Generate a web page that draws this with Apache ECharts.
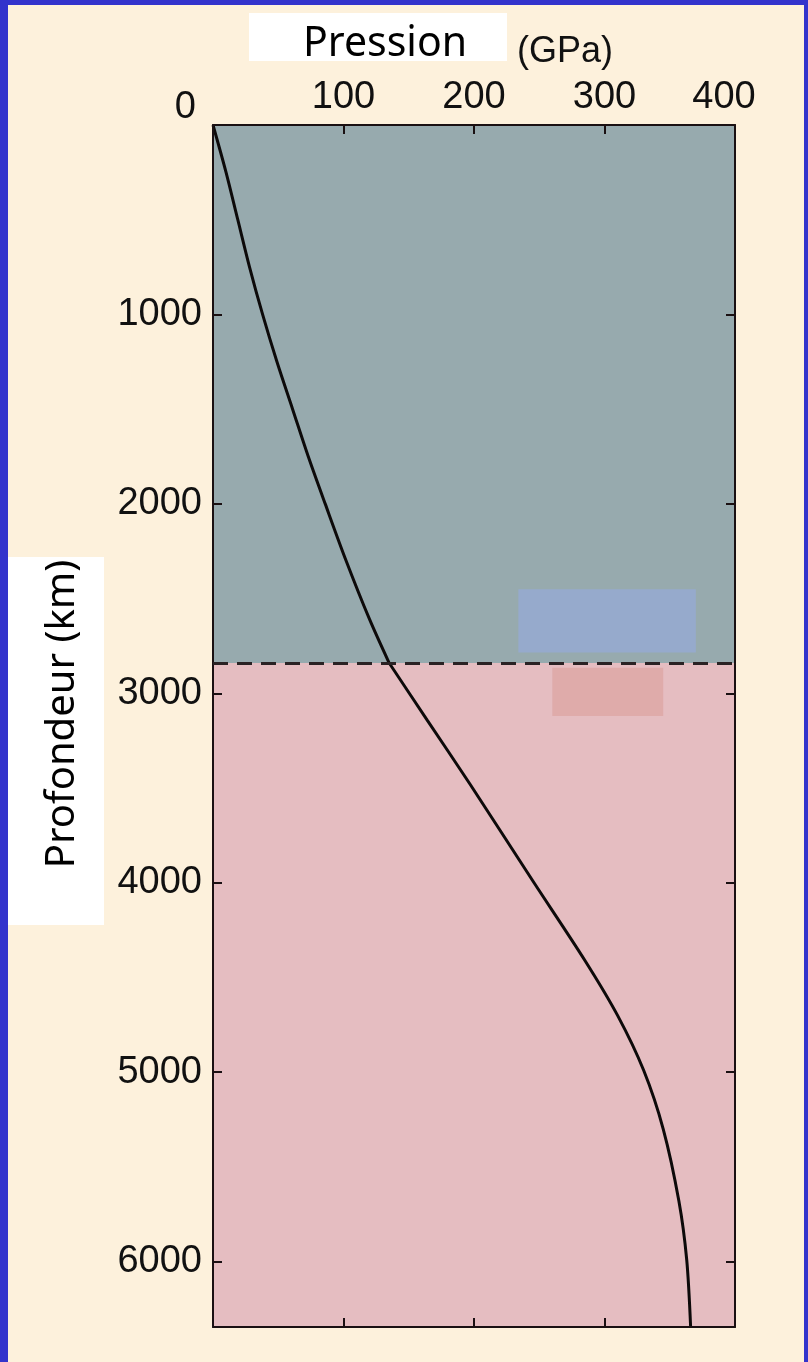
<!DOCTYPE html>
<html>
<head>
<meta charset="utf-8">
<script src="https://cdn.jsdelivr.net/npm/echarts@6/dist/echarts.min.js"></script>
<style>
html, body { margin: 0; padding: 0; }
#wrap { position: relative; width: 808px; height: 1362px; background: #3333cc; overflow: hidden; }
#chart { position: absolute; left: 8px; top: 5px; width: 796px; height: 1357px; }
</style>
</head>
<body>
<div id="wrap"><div id="chart"></div></div>
<script>
// courbe pression / profondeur
var depthKm     = [0, 250, 500, 750, 1000, 1250, 1500, 1750, 2000, 2300, 2610, 2840, 3140, 3480, 4000, 4410, 4700, 4990, 5300, 5680, 5990, 6345];
var pressureGPa = [0,  10,  19,  28,   38,   49,   61,   73,   86,  102,  120,  135,  164,  197,  246,  285,  310,  330,  345,  357,  363,  366];

var depthTicks = [0, 1000, 2000, 3000, 4000, 5000, 6000];
var pressureTicks = [0, 100, 200, 300, 400];
var maxDepth = 6345;
var cmbDepth = 2840;          // limite manteau / noyau
var blueBox = [[234, 2450], [370, 2785]];   // [pression, profondeur]
var pinkBox = [[260, 2865], [345, 3120]];

var tickFont = 'Liberation Sans, Arial, sans-serif';
var frameColor = '#1a1012';

var points = depthKm.map(function (d, i) { return [pressureGPa[i], d]; });
var cmbIndex = depthKm.indexOf(cmbDepth);
var mantle = points.slice(0, cmbIndex + 1);
var core = points.slice(cmbIndex);

function frameAxis(extra) {
  return Object.assign({
    type: 'value', z: 4,
    axisLine: { show: true, onZero: false, lineStyle: { color: frameColor, width: 2 } },
    axisTick: { show: true, inside: true, length: 9, lineStyle: { color: frameColor, width: 2 } },
    splitLine: { show: false },
    axisLabel: { show: false }
  }, extra);
}

var chart = echarts.init(document.getElementById('chart'));

var option = {
  backgroundColor: '#fdf1dc',
  animation: false,
  grid: { left: 205, top: 120, width: 522, height: 1202 },
  xAxis: [
    frameAxis({
      position: 'top', min: 0, max: pressureTicks[pressureTicks.length - 1], interval: 100,
      axisLabel: {
        margin: 8, color: '#111', fontSize: 38, fontFamily: tickFont,
        formatter: function (v) {
          if (v === 0) return '';
          if (v === 400) return '{r|400}';
          return String(v);
        },
        rich: { r: { fontSize: 38, fontFamily: tickFont, color: '#111', padding: [0, 22, 0, 0] } }
      }
    }),
    frameAxis({ position: 'bottom', min: 0, max: 400, interval: 100 })
  ],
  yAxis: [
    frameAxis({
      position: 'left', inverse: true, min: 0, max: maxDepth, interval: 1000,
      axisLabel: {
        margin: 11, color: '#111', fontSize: 38, fontFamily: tickFont, showMaxLabel: false,
        formatter: function (v) {
          if (depthTicks.indexOf(v) < 0) return '';
          return v === 0 ? '{z|0}' : String(v);
        },
        rich: { z: { fontSize: 38, fontFamily: tickFont, color: '#111', padding: [0, 6, 35, 0] } }
      }
    }),
    frameAxis({ position: 'right', inverse: true, min: 0, max: maxDepth, interval: 1000 })
  ],
  graphic: [
    { type: 'rect', shape: { x: 241, y: 8, width: 258, height: 48 }, style: { fill: '#ffffff' } },
    { type: 'text', x: 377, y: 39, style: { text: 'Pression', font: '41px "Noto Sans"', fill: '#000', align: 'center', verticalAlign: 'middle' } },
    { type: 'text', x: 557, y: 47, style: { text: '(GPa)', font: '36px "Liberation Sans"', fill: '#111', align: 'center', verticalAlign: 'middle' } },
    { type: 'rect', shape: { x: 0, y: 552, width: 96, height: 368 }, style: { fill: '#ffffff' } },
    { type: 'text', x: 55, y: 709, rotation: Math.PI / 2, style: { text: 'Profondeur (km)', font: '40px "Noto Sans"', fill: '#000', align: 'center', verticalAlign: 'middle' } }
  ],
  series: [{
    // zones manteau / noyau et encadrés
    type: 'line', data: [], z: 1, silent: true,
    markArea: {
      silent: true,
      data: [
        [{ coord: [0, 0], itemStyle: { color: '#97aaae' } }, { coord: [400, cmbDepth] }],
        [{ coord: [0, cmbDepth], itemStyle: { color: '#e5bdc1' } }, { coord: [400, maxDepth] }],
        [{ coord: blueBox[0], itemStyle: { color: '#96aacc' } }, { coord: blueBox[1] }],
        [{ coord: pinkBox[0], itemStyle: { color: '#dfabaa' } }, { coord: pinkBox[1] }]
      ]
    },
    markLine: {
      silent: true, symbol: 'none', label: { show: false },
      lineStyle: { color: '#2a2224', width: 3, type: [15, 9] },
      data: [{ yAxis: cmbDepth }]
    }
  }, {
    type: 'line', z: 3, data: mantle, smooth: 0.3,
    showSymbol: false, symbol: 'none',
    lineStyle: { color: '#0d0a0a', width: 3 }
  }, {
    type: 'line', z: 3, data: core, smooth: 0.3,
    showSymbol: false, symbol: 'none',
    lineStyle: { color: '#0d0a0a', width: 3 }
  }]
};

chart.setOption(option);
</script>
</body>
</html>
